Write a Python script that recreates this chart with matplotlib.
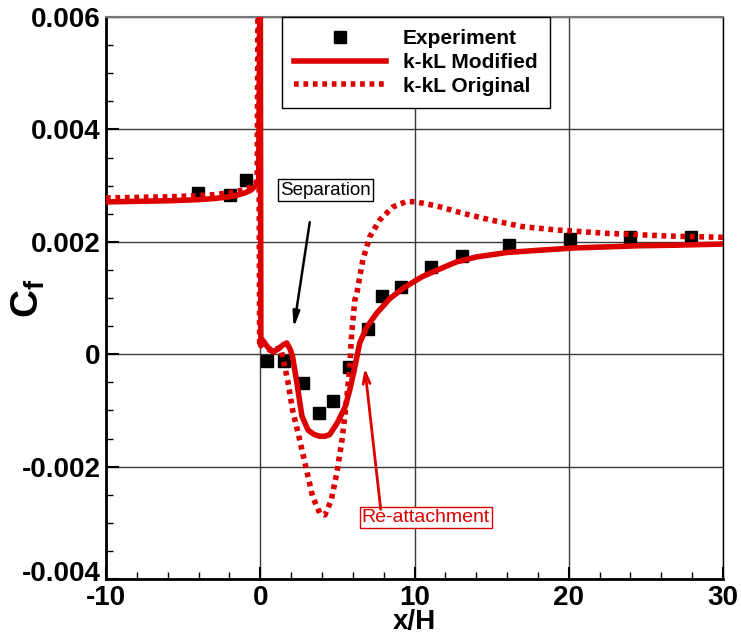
import matplotlib
matplotlib.use("Agg")
import matplotlib.pyplot as plt
import matplotlib.transforms as mtransforms
from matplotlib.ticker import MultipleLocator

plt.rcParams['font.family'] = ['Liberation Sans', 'DejaVu Sans']
plt.rcParams['mathtext.fontset'] = 'custom'
plt.rcParams['mathtext.rm'] = 'Liberation Sans'
plt.rcParams['mathtext.bf'] = 'Liberation Sans:bold'

# experiment
exp_x = [-4.05, -1.93, -0.9, 0.45, 1.55, 2.8, 3.8, 4.7, 5.75, 7.0, 7.9, 9.15,
         11.1, 13.1, 16.1, 20.1, 24.0, 27.9]
exp_cf = [0.00287, 0.00283, 0.0031, -0.00012, -0.00012, -0.00052, -0.00104,
          -0.00084, -0.00023, 0.00045, 0.00104, 0.0012, 0.00155, 0.00175,
          0.00195, 0.00205, 0.00209, 0.00209]

# k-kL modified
mod_x = [-10, -8, -6, -4, -3, -2, -1.5, -1, -0.6, -0.3, -0.1, 0.0, 0.04, 0.16,
         0.5, 0.85, 1.2, 1.5, 1.72, 1.95, 2.1, 2.37, 2.7, 3.1, 3.5, 3.86, 4.2,
         4.5, 5.0, 5.5, 5.8, 6.13, 6.45, 6.9, 7.55, 8.4, 9.3, 10.5, 11.5, 12.7,
         14.0, 16.0, 18.1, 20.3, 22.5, 24.6, 27.0, 30.0]
mod_cf = [0.00271, 0.00272, 0.00273, 0.00275, 0.00277, 0.0028, 0.00283,
          0.00287, 0.00292, 0.003, 0.0031, 0.0075, 0.00015, 0.00025, 0.00012,
          0.00004, 0.0001, 0.00017, 0.0002, 0.00008, -0.00005, -0.0005,
          -0.0011, -0.00135, -0.00143, -0.00146, -0.00146, -0.00143, -0.00122,
          -0.00094, -0.00064, -0.00023, 0.0002, 0.00048, 0.00073, 0.00099,
          0.00118, 0.00138, 0.0015, 0.00164, 0.00173, 0.00181, 0.00185,
          0.00189, 0.00191, 0.00193, 0.00194, 0.00196]

# k-kL original
orig_x = [-10, -8, -6, -4, -3, -2, -1.5, -1, -0.6, -0.35, -0.2, -0.12, -0.04,
          0.1, 0.4, 0.8, 1.1, 1.3, 1.46, 1.8, 2.1, 2.56, 3.0, 3.4, 3.86, 4.2,
          4.6, 4.96, 5.3, 5.6, 5.8, 5.93, 6.13, 6.26, 6.65, 7.1, 7.75, 8.6, 9.5,
          10.1, 11.4, 13.1, 14.9, 17.0, 19.2, 22.5, 26.7, 30.0]
orig_cf = [0.00278, 0.00279, 0.0028, 0.00282, 0.00284, 0.00287, 0.0029,
           0.00293, 0.00298, 0.00303, 0.0031, 0.0075, 0.0002, 0.00025, 0.0001,
           0.00005, 0.0001, 0.00012, -0.00005, -0.0005, -0.001, -0.00153,
           -0.00206, -0.00254, -0.00283, -0.00286, -0.0026, -0.00212, -0.00153,
           -0.00081, -0.00023, 0.00038, 0.00096, 0.00108, 0.00168, 0.00209,
           0.00239, 0.00262, 0.00272, 0.00271, 0.00264, 0.00251, 0.00239,
           0.00227, 0.00221, 0.00215, 0.0021, 0.00208]

x_ticks = [-10, 0, 10, 20, 30]
x_labels = ['-10', '0', '10', '20', '30']
y_ticks = [-0.004, -0.002, 0, 0.002, 0.004, 0.006]
y_labels = ['-0.004', '-0.002', '0', '0.002', '0.004', '0.006']

red = '#dd0000'

fig = plt.figure(figsize=(7.41, 6.35), dpi=100)
ax = fig.add_axes([106 / 741, 1 - 579 / 635, 617 / 741, 562 / 635])

h_exp, = ax.plot(exp_x, exp_cf, 's', color='k', markersize=9.3, zorder=2,
                 label='Experiment')
h_mod, = ax.plot(mod_x, mod_cf, '-', color=red, lw=4, zorder=4,
                 label='k-kL Modified')
h_orig, = ax.plot(orig_x, orig_cf, color=red, lw=4, linestyle=(0, (0.85, 0.85)),
                  zorder=3, label='k-kL Original')

ax.set_xlim(-10, 30)
ax.set_ylim(-0.004, 0.006)
ax.set_xticks(x_ticks)
ax.set_xticklabels(x_labels)
ax.set_yticks(y_ticks)
ax.set_yticklabels(y_labels)
ax.xaxis.set_minor_locator(MultipleLocator(2))
ax.yaxis.set_minor_locator(MultipleLocator(0.0005))

ax.grid(True, which='major', color='#3a3a3a', lw=1.0, zorder=0)
ax.set_axisbelow(True)

ax.tick_params(which='both', direction='in', top=False, right=False)
ax.tick_params(which='major', length=9, width=1.5)
ax.tick_params(which='minor', length=5, width=1)
ax.tick_params(axis='y', pad=4)
ax.tick_params(axis='x', pad=4)
for lab in ax.get_yticklabels():
    lab.set_fontsize(20)
    lab.set_fontweight('bold')
# nudge the bottom y label up a little so it clears "-10"
bottom_lab = ax.get_yticklabels()[0]
bottom_lab.set_transform(bottom_lab.get_transform() +
                         mtransforms.ScaledTranslation(0, 6 / 72, fig.dpi_scale_trans))
for lab in ax.get_xticklabels():
    lab.set_fontsize(20)
    lab.set_fontweight('bold')

for s in ['left', 'bottom']:
    ax.spines[s].set_linewidth(2)
ax.spines['top'].set_color('#777777')
ax.spines['top'].set_linewidth(1.5)
ax.spines['right'].set_linewidth(1)

ax.set_ylabel(r'$\mathbf{C_f}$', fontsize=28)
ax.yaxis.set_label_coords(-0.095, 0.5)
ax.set_xlabel('x/H', fontsize=20, fontweight='bold')
ax.xaxis.set_label_coords(0.5, -0.054)

leg = ax.legend(handles=[h_exp, h_mod, h_orig], loc='upper left',
                bbox_to_anchor=(0.285, 1.0), borderaxespad=0, fancybox=False,
                edgecolor='k', framealpha=1,
                prop={'size': 15, 'weight': 'bold'}, handlelength=4.4,
                handletextpad=0.8, labelspacing=0.22, borderpad=0.6,
                numpoints=1)
leg.get_frame().set_linewidth(1)
leg.set_zorder(6)

ax.text(4.25, 0.00292, 'Separation', fontsize=13.5, color='k', ha='center',
        va='center', zorder=7,
        bbox=dict(boxstyle='square,pad=0.12', fc='white', ec='k', lw=1))
ax.annotate('', xy=(2.17, 0.00047), xytext=(3.21, 0.00235),
            arrowprops=dict(arrowstyle='-|>,head_length=0.9,head_width=0.2',
                            color='k', lw=1.8, shrinkA=0, shrinkB=0),
            zorder=7)

ax.text(10.73, -0.00291, 'Re-attachment', fontsize=14, color=red, ha='center',
        va='center', zorder=7,
        bbox=dict(boxstyle='square,pad=0.1', fc='white', ec=red, lw=1))
ax.annotate('', xy=(6.78, -0.00025), xytext=(7.81, -0.00276),
            arrowprops=dict(arrowstyle='->,head_length=0.8,head_width=0.25',
                            color=red, lw=2, shrinkA=0, shrinkB=0),
            zorder=7)

fig.savefig('out.png', dpi=100)
